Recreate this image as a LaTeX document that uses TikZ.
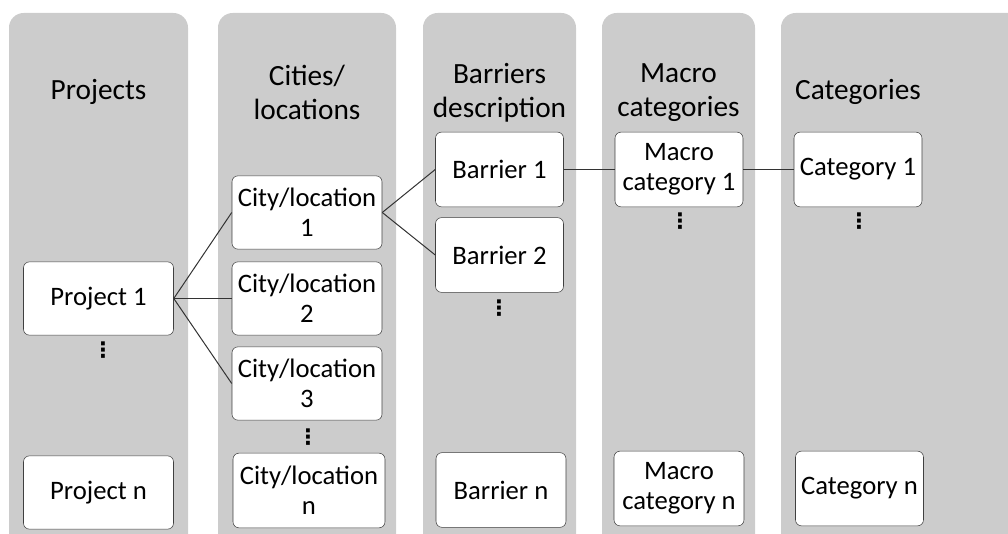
\documentclass[tikz,border=0pt]{standalone}
\usepackage{fontspec}
\setmainfont{Carlito}
\newfontfamily\symfont{DejaVu Sans}
\begin{document}
\begin{tikzpicture}[x=0.75pt,y=-0.75pt]
  \tikzstyle{lane}=[fill=black!20, rounded corners=11pt]
  \tikzstyle{head}=[align=center, inner sep=0pt, font=\fontsize{22}{25.5}\selectfont]
  \tikzstyle{item}=[draw=black!75, fill=white, rounded corners=4.5pt, align=center, inner sep=0pt, font=\fontsize{20}{22.5}\selectfont]
  \tikzstyle{wide}=[item, minimum width=112.5pt, minimum height=55pt]
  \tikzstyle{slim}=[item, minimum width=96pt, minimum height=56pt]
  \tikzstyle{moredots}=[inner sep=0pt, font=\symfont\bfseries\fontsize{16}{18}\selectfont]
  \tikzstyle{link}=[draw=black!80, line width=0.75pt]
  \useasboundingbox (0,0) rectangle (1008,534);
  \clip (0,0) rectangle (1008,534);
  \fill[lane] (9,13) rectangle (188,560);
  \fill[lane] (218,13) rectangle (396,560);
  \fill[lane] (423,13) rectangle (576,560);
  \fill[lane] (602,13) rectangle (755,560);
  \fill[lane] (781,13) rectangle (1040,560);
  \node[head] (hp) at (98.5,92) {Projects};
  \node[head] (hc) at (307,92) {Cities/\\locations};
  \node[head] (hb) at (499.5,93) {Barriers\\description};
  \node[head] (hm) at (678.5,93) {Macro\\categories};
  \node[head] (hk) at (858,92) {Categories};
  \node[wide] (p1) at (98.5,298.5) {Project 1};
  \node[moredots] (p1d) at (103,350) {⋮};
  \node[wide] (pn) at (98.5,492.5) {Project n};
  \node[wide] (c1) at (307,212.5) {City/location\\1};
  \node[wide] (c2) at (307,298.5) {City/location\\2};
  \node[wide] (c3) at (307,383.5) {City/location\\3};
  \node[moredots] (c3d) at (308,437) {⋮};
  \node[wide, minimum width=114pt, minimum height=56pt] (cn) at (309,490.5) {City/location\\n};
  \node[slim] (b1) at (499.5,169.5) {Barrier 1};
  \node[slim] (b2) at (499.5,255) {Barrier 2};
  \node[moredots] (b2d) at (499,308) {⋮};
  \node[slim, minimum width=97.5pt] (bn) at (501,490) {Barrier n};
  \node[slim] (m1) at (679,169.5) {Macro\\category 1};
  \node[moredots] (m1d) at (680,221) {⋮};
  \node[slim, minimum width=97.5pt] (mn) at (679,488.5) {Macro\\category n};
  \node[slim] (k1) at (858,169.5) {Category 1};
  \node[moredots] (k1d) at (859,221) {⋮};
  \node[slim] (kn) at (859.5,488.5) {Category n};
  \draw[link] (p1.east) -- (c1.west);
  \draw[link] (p1.east) -- (c2.west);
  \draw[link] (p1.east) -- (c3.west);
  \draw[link] (c1.east) -- (b1.west);
  \draw[link] (c1.east) -- (b2.west);
  \draw[link] (b1.east) -- (m1.west);
  \draw[link] (m1.east) -- (k1.west);
\end{tikzpicture}
\end{document}
